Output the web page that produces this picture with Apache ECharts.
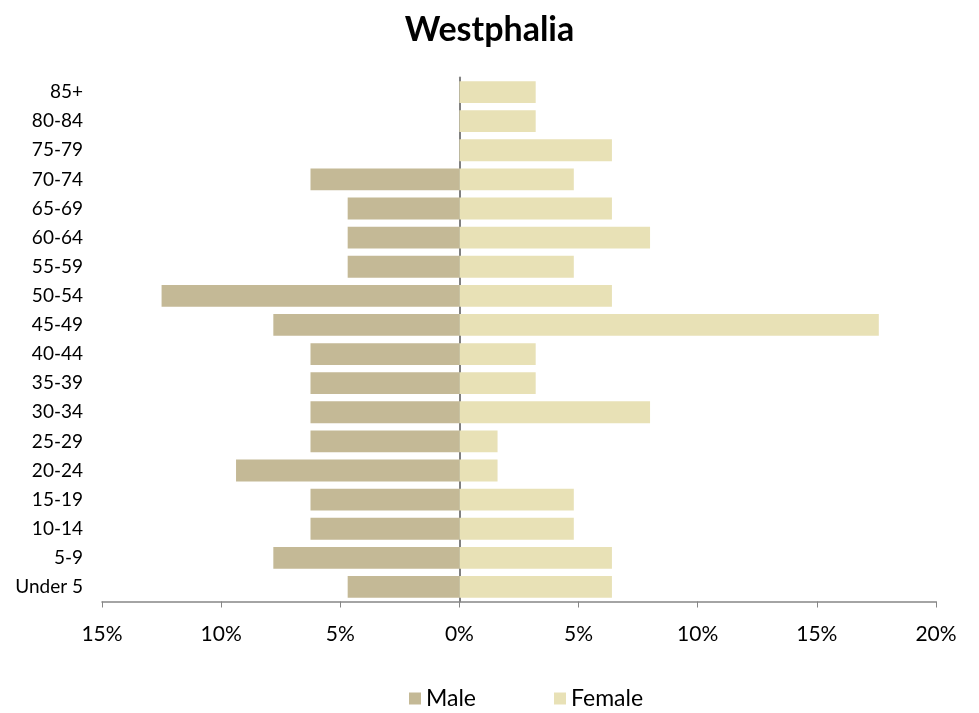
<!DOCTYPE html>
<html>
<head>
<meta charset="utf-8">
<script src="https://cdn.jsdelivr.net/npm/echarts@6/dist/echarts.min.js"></script>
<style>html,body{margin:0;padding:0;background:#fff;}#c{width:979px;height:713px;}</style>
</head>
<body>
<div id="c"></div>
<script>
const categories = ['Under 5','5-9','10-14','15-19','20-24','25-29','30-34','35-39','40-44','45-49','50-54','55-59','60-64','65-69','70-74','75-79','80-84','85+'];
const maleValues = [4.69,7.81,6.25,6.25,9.375,6.25,6.25,6.25,6.25,7.81,12.5,4.69,4.69,4.69,6.25,0,0,0];
const femaleValues = [6.4,6.4,4.8,4.8,1.6,1.6,8.0,3.2,3.2,17.6,6.4,4.8,8.0,6.4,4.8,6.4,3.2,3.2];
const xTicks = [-15,-10,-5,0,5,10,15,20];

const FONT = 'Lato, "Open Sans", sans-serif';
const chart = echarts.init(document.getElementById('c'));
chart.setOption({
  animation: false,
  title: {
    text: 'Westphalia', left: 'center', top: 8,
    textStyle: {fontFamily: FONT, fontSize: 34, fontWeight: 'bold', color: '#000'}
  },
  legend: {
    top: 682, left: 404, itemGap: 78, itemWidth: 12, itemHeight: 12,
    icon: 'rect',
    textStyle: {fontFamily: FONT, fontSize: 23, color: '#000'},
    data: ['Male','Female']
  },
  grid: {left: 102, right: 43, top: 77.5, bottom: 111.5, containLabel: false},
  xAxis: {
    type: 'value', min: xTicks[0], max: xTicks[xTicks.length-1], interval: 5,
    axisLine: {show: true, onZero: false, lineStyle: {color: '#868686', width: 1.5}},
    axisTick: {show: true, length: 6, lineStyle: {color: '#868686'}},
    splitLine: {show: false},
    axisLabel: {
      fontFamily: FONT, fontSize: 21, color: '#000', margin: 22,
      formatter: v => Math.abs(v) + '%'
    }
  },
  yAxis: [{
    type: 'category', data: categories, position: 'left',
    axisLine: {show: false, onZero: false}, axisTick: {show: false},
    axisLabel: {fontFamily: FONT, fontSize: 19, color: '#000', margin: 19}
  }, {
    type: 'category', data: categories,
    axisLine: {show: true, onZero: true, lineStyle: {color: '#808080', width: 2}},
    axisTick: {show: false}, axisLabel: {show: false}
  }],
  series: [{
    name: 'Male', type: 'bar', stack: 'p', yAxisIndex: 0,
    data: maleValues.map(v => -v),
    barCategoryGap: '25%',
    itemStyle: {color: '#C4B996'}
  }, {
    name: 'Female', type: 'bar', stack: 'p', yAxisIndex: 0,
    data: femaleValues,
    barCategoryGap: '25%',
    itemStyle: {color: '#E8E1B6'}
  }]
});
</script>
</body>
</html>
